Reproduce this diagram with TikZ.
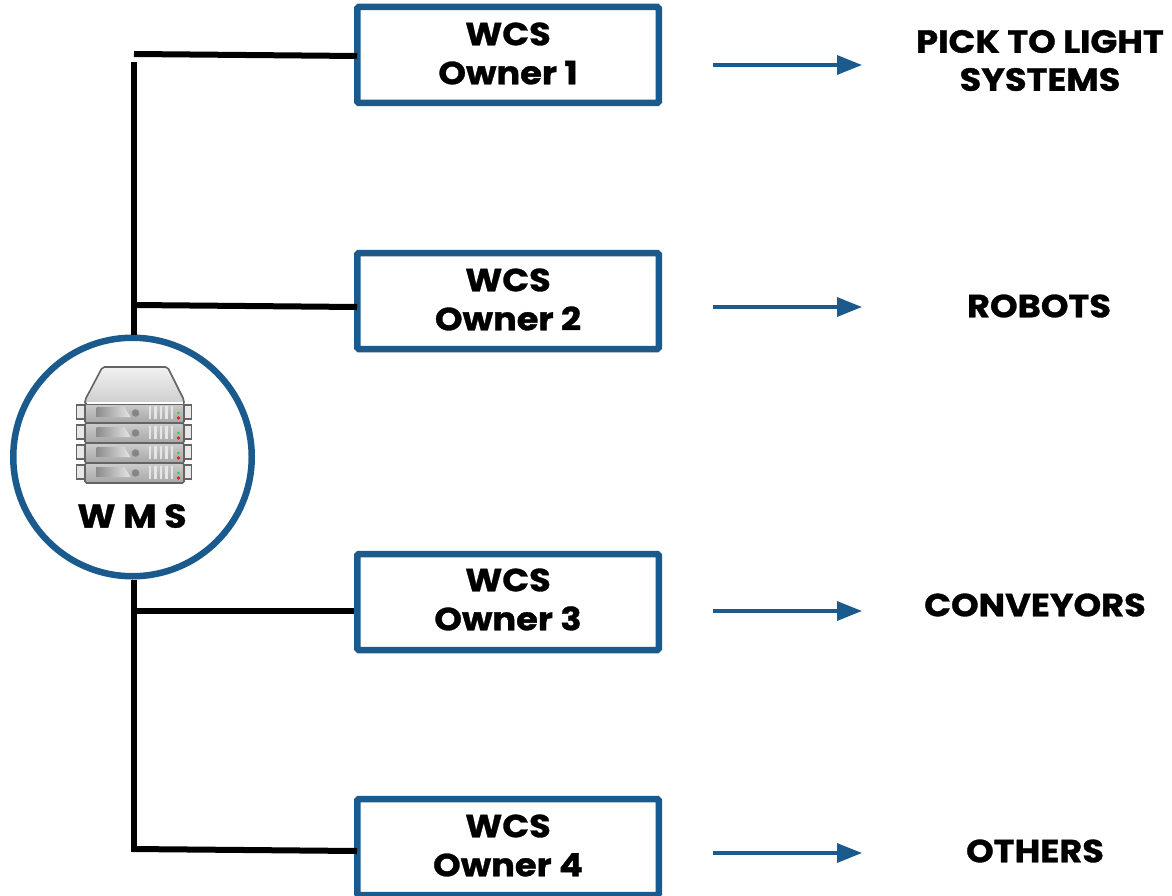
\documentclass[tikz,border=0pt]{standalone}
\usepackage{fontspec}
\setmainfont{Poppins}[BoldFeatures={FakeBold=1,FakeStretch=1.1}]
\usepackage{xcolor}
\usetikzlibrary{arrows.meta,positioning}
\definecolor{wmsblue}{RGB}{27,90,141}
\definecolor{srvedge}{RGB}{100,100,100}
\definecolor{srvface}{RGB}{205,205,205}
\definecolor{srvtop}{RGB}{232,232,232}
\tikzstyle{wcsbox} = [draw=wmsblue,line width=6.5pt,rounded corners=1.5pt,minimum width=301.5pt,minimum height=96pt,inner sep=0pt]
\tikzstyle{wcstext} = [align=center,font=\fontsize{32}{39}\selectfont\bfseries,text=black,inner sep=0pt]
\tikzstyle{target} = [align=center,font=\fontsize{32}{38}\selectfont\bfseries,text=black,inner sep=0pt]
\tikzstyle{link} = [line width=6pt,color=black]
\tikzstyle{arrow} = [line width=3.2pt,color=wmsblue,-{Triangle[length=25pt,width=19pt]}]
\begin{document}
\begin{tikzpicture}[x=1pt,y=-1pt]
\useasboundingbox (0,0) rectangle (1172,896);

% WCS boxes
\node[wcsbox] (owner1) at (508,55) {};
\node[wcsbox] (owner2) at (508,301) {};
\node[wcsbox] (owner3) at (508,602) {};
\node[wcsbox] (owner4) at (508,847) {};
\node[wcstext] (text1) at (508,53.5) {WCS\\Owner 1};
\node[wcstext] (text2) at (508,299.5) {WCS\\Owner 2};
\node[wcstext] (text3) at (508,599.5) {WCS\\Owner 3};
\node[wcstext] (text4) at (508,845.5) {WCS\\Owner 4};

% Targets
\node[target] (pick) at (1040,60.5) {PICK TO LIGHT\\SYSTEMS};
\node[target] (robots) at (1039,306) {ROBOTS};
\node[target] (conveyors) at (1035,605) {CONVEYORS};
\node[target] (others) at (1035,851) {OTHERS};

% Arrows
\foreach \i/\y in {1/65,2/307,3/611,4/853} {
    \coordinate (from\i) at (713,\y);
    \coordinate (to\i) at (862,\y);
    \draw[arrow] (from\i) -- (to\i);
}

% Trunk
\node[circle, draw=wmsblue, line width=6.5pt, fill=white, minimum size=238.5pt, inner sep=0pt] (wms) at (132.5,457) {};
\coordinate (trunktop) at (134,62);
\coordinate (trunkbot) at (134,852);
\draw[link] (trunktop) -- (wms.north -| trunktop);
\draw[link] (wms.south -| trunkbot) -- (trunkbot);

% Branches
\coordinate (tap1) at (134,54);
\coordinate (tap2) at (134,305);
\coordinate (tap3) at (134,611);
\coordinate (tap4) at (132,849);
\coordinate (end1) at (357,56);
\coordinate (end2) at (357,307);
\coordinate (end3) at (354,611);
\coordinate (end4) at (357,851);
\foreach \i in {1,...,4} {
    \draw[link] (tap\i) -- (end\i);
}

% Server stack
\begin{scope}[shift={(134.5,0)}]
\foreach \y in {403,423,443,463} {
    \draw[srvedge,fill=srvtop,line width=1.2pt] (-58,\y+2) rectangle (-49,\y+16);
    \draw[srvedge,fill=srvtop,line width=1.2pt] (49,\y+2) rectangle (57,\y+16);
    \draw[srvedge,top color=srvface,bottom color=gray!70,line width=1.6pt,rounded corners=1.5pt] (-49.5,\y) rectangle (49.5,\y+20);
    \shade[left color=gray!90,right color=gray!20] (-38,\y+4) -- (-10,\y+4) -- (-4,\y+14) -- (-38,\y+14) -- cycle;
    \fill[gray!95] (1,\y+10) circle (3.8);
    \foreach \x in {14,19.5,...,36} {
        \fill[gray!20] (\x,\y+3) rectangle (\x+2.8,\y+16);
    }
    \fill[green!60!gray] (44,\y+10) circle (1.4);
    \fill[red!75!gray] (44,\y+15) circle (1.8);
}
\draw[srvedge,top color=srvtop!60,bottom color=srvface,line width=1.6pt,rounded corners=2pt] (-49.5,404) -- (-49.5,400) -- (-32,367) -- (33,367) -- (49.5,400) -- (49.5,404) -- cycle;
\fill[white] (-48,401.5) rectangle (48,403.5);
\end{scope}
\node[font=\fontsize{33}{38}\selectfont\bfseries,inner sep=0pt] (wmslabel) at (132,516) {W M S};
\end{tikzpicture}
\end{document}
